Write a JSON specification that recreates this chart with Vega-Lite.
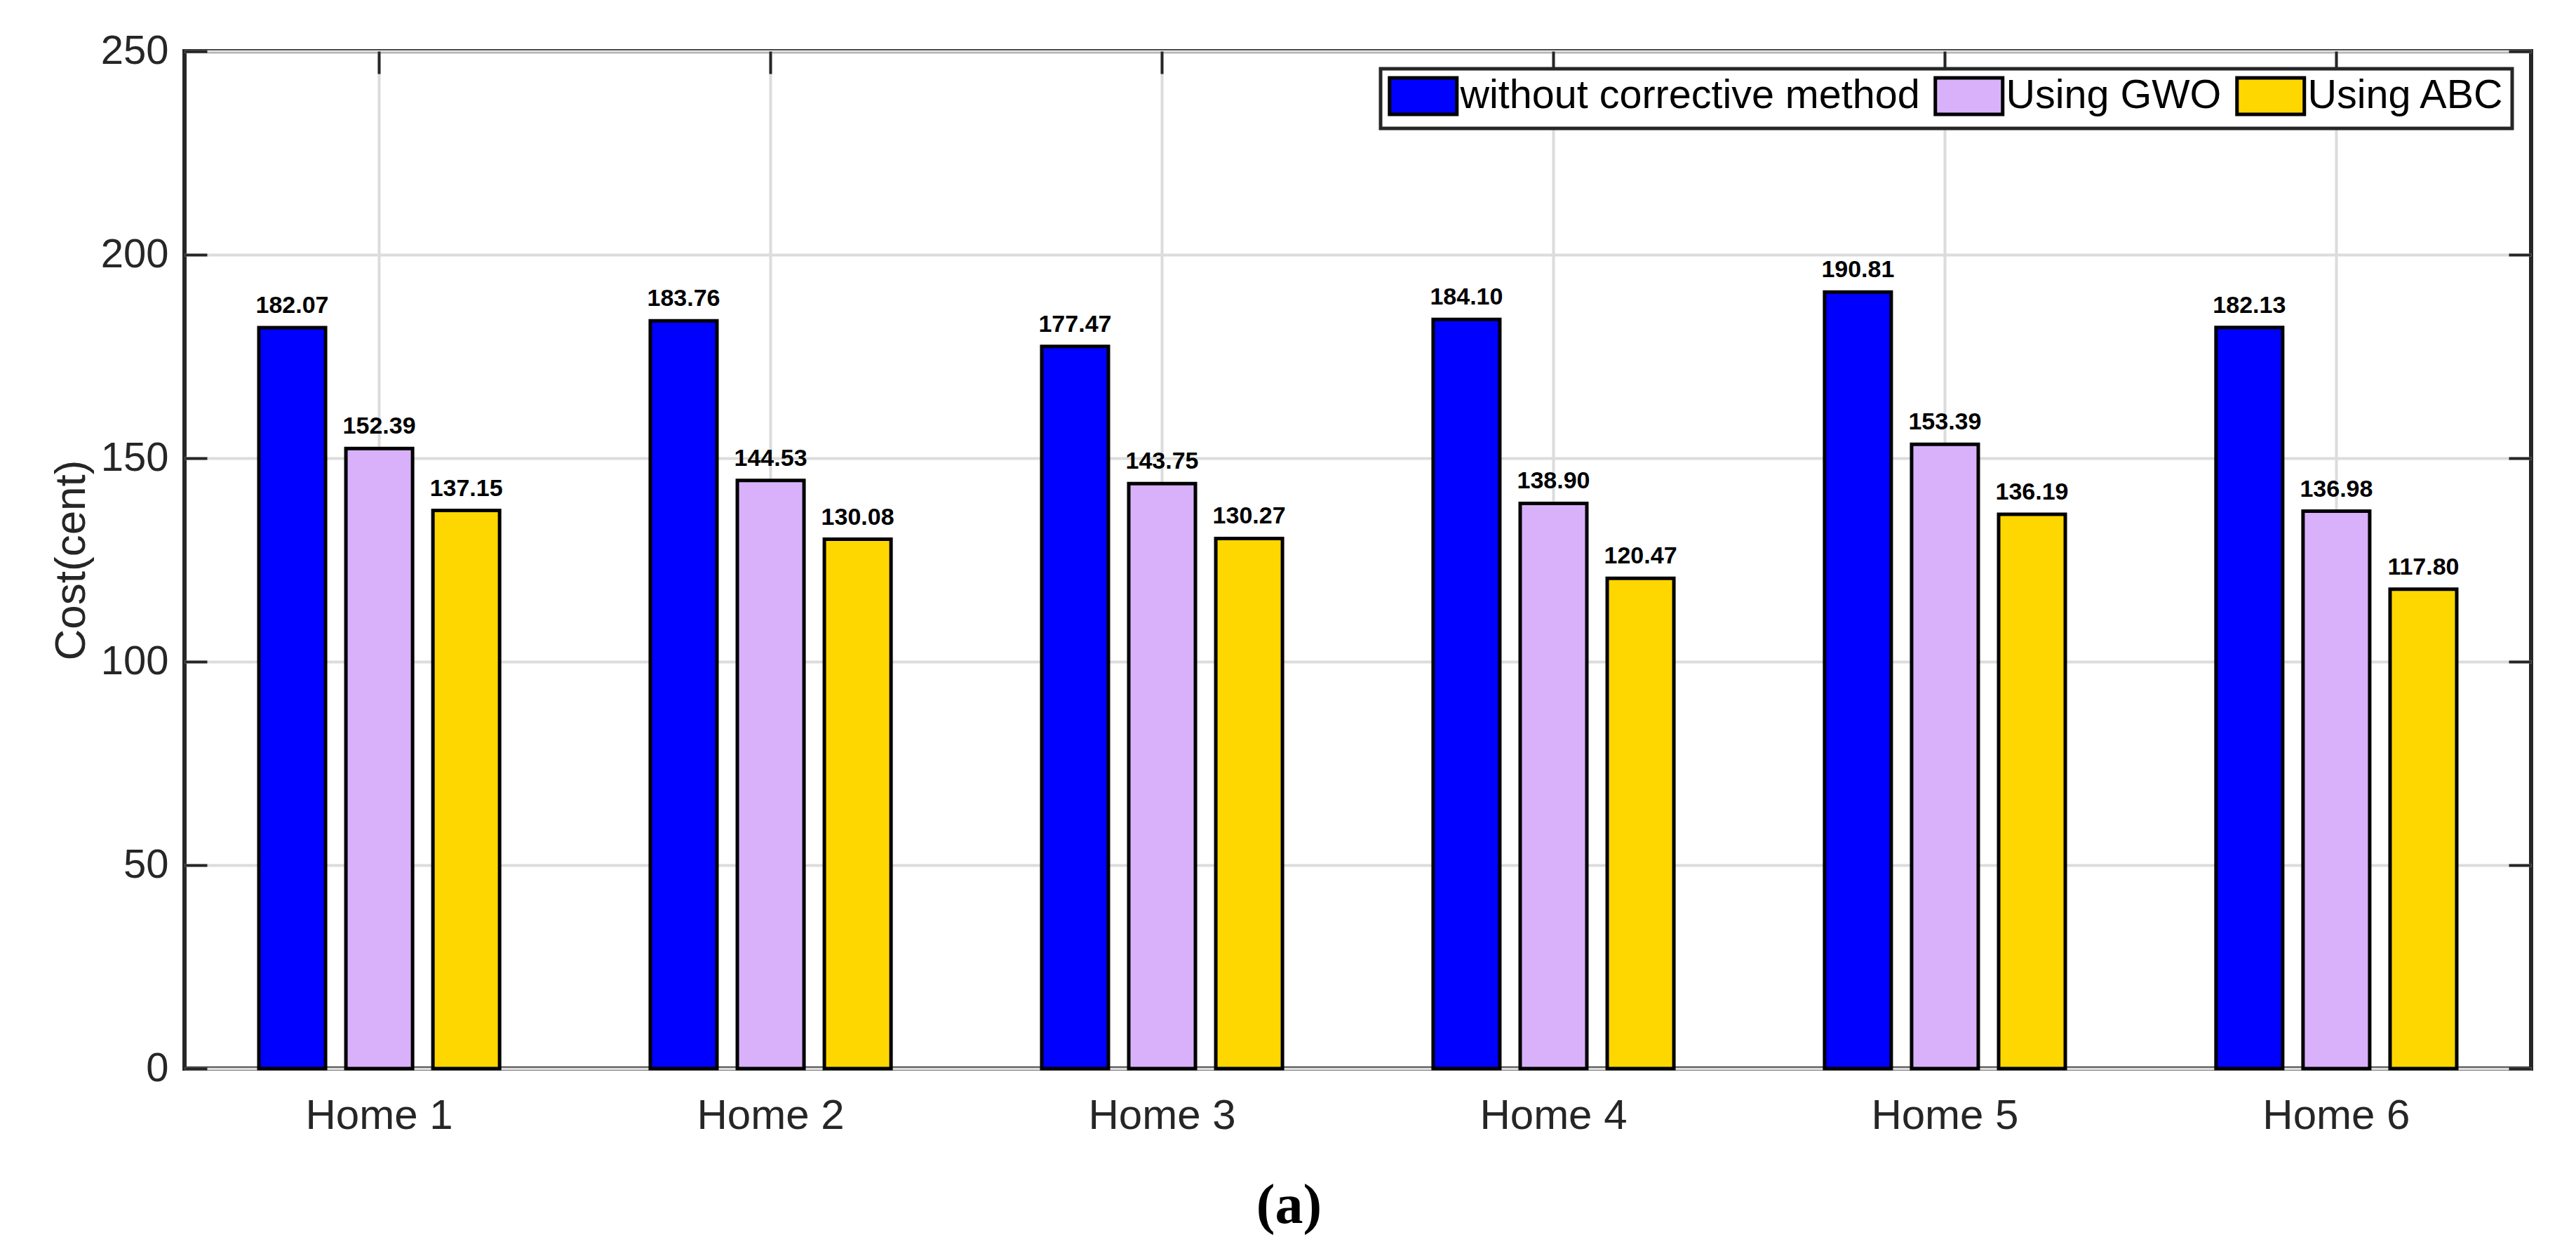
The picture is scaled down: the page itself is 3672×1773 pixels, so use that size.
{
  "$schema": "https://vega.github.io/schema/vega-lite/v6.json",
  "width": 3345,
  "height": 1450,
  "autosize": {"type": "none"},
  "padding": {"left": 263, "top": 73, "right": 64, "bottom": 250},
  "background": "white",
  "config": {
    "view": {"stroke": "#262626", "strokeWidth": 6},
    "font": "Liberation Sans",
    "axis": {
      "domain": false,
      "gridColor": "#DCDCDC",
      "gridWidth": 4,
      "tickColor": "#262626",
      "tickWidth": 4,
      "tickSize": -32,
      "labelFont": "Liberation Sans",
      "labelColor": "#262626",
      "labelFontSize": 58,
      "labelLimit": 0,
      "titleFont": "Liberation Sans"
    }
  },
  "title": {
    "text": "(a)",
    "orient": "bottom",
    "anchor": "middle",
    "frame": "group",
    "dx": -98,
    "offset": 60,
    "font": "Liberation Serif",
    "fontSize": 80,
    "fontWeight": "bold",
    "color": "black"
  },
  "data": {
    "values": [
      {"home": "Home 1", "method": "without corrective method", "cost": 182.07},
      {"home": "Home 1", "method": "Using GWO", "cost": 152.39},
      {"home": "Home 1", "method": "Using ABC", "cost": 137.15},
      {"home": "Home 2", "method": "without corrective method", "cost": 183.76},
      {"home": "Home 2", "method": "Using GWO", "cost": 144.53},
      {"home": "Home 2", "method": "Using ABC", "cost": 130.08},
      {"home": "Home 3", "method": "without corrective method", "cost": 177.47},
      {"home": "Home 3", "method": "Using GWO", "cost": 143.75},
      {"home": "Home 3", "method": "Using ABC", "cost": 130.27},
      {"home": "Home 4", "method": "without corrective method", "cost": 184.10},
      {"home": "Home 4", "method": "Using GWO", "cost": 138.90},
      {"home": "Home 4", "method": "Using ABC", "cost": 120.47},
      {"home": "Home 5", "method": "without corrective method", "cost": 190.81},
      {"home": "Home 5", "method": "Using GWO", "cost": 153.39},
      {"home": "Home 5", "method": "Using ABC", "cost": 136.19},
      {"home": "Home 6", "method": "without corrective method", "cost": 182.13},
      {"home": "Home 6", "method": "Using GWO", "cost": 136.98},
      {"home": "Home 6", "method": "Using ABC", "cost": 117.80}
    ]
  },
  "layer": [
    {
      "mark": {"type": "bar", "stroke": "black", "strokeWidth": 5},
      "encoding": {
        "x": {
          "field": "home", "type": "nominal",
          "scale": {"paddingInner": 0.385, "paddingOuter": 0.19},
          "axis": {"orient": "bottom", "title": null, "labelAngle": 0, "grid": true, "ticks": true, "bandPosition": 0.5, "labelPadding": 70, "labelFontSize": 60, "labelLimit": 0}
        },
        "xOffset": {
          "field": "method", "type": "nominal",
          "scale": {"domain": ["without corrective method", "Using GWO", "Using ABC"], "paddingInner": 0.234, "paddingOuter": 0}
        },
        "y": {
          "field": "cost", "type": "quantitative",
          "scale": {"domain": [0, 250], "nice": false},
          "axis": {
            "values": [0, 50, 100, 150, 200, 250],
            "grid": true,
            "labelPadding": 55,
            "title": "Cost(cent)",
            "titleFontSize": 62,
            "titleFontWeight": "normal",
            "titleColor": "#262626",
            "titleAngle": -90,
            "titleX": -162,
            "titleY": 725,
            "titleAlign": "center",
            "titleBaseline": "middle"
          }
        },
        "color": {
          "field": "method", "type": "nominal",
          "scale": {"domain": ["without corrective method", "Using GWO", "Using ABC"], "range": ["#0000FF", "#D9B1FB", "#FFD700"]},
          "legend": {
            "title": null,
            "orient": "none",
            "legendX": 1705,
            "legendY": 25,
            "direction": "horizontal",
            "symbolType": "M-1.846,-1H1.846V1H-1.846Z",
            "symbolSize": 2704,
            "symbolStrokeColor": "black",
            "symbolStrokeWidth": 5,
            "symbolOffset": 22,
            "symbolOpacity": 1,
            "labelOffset": 24,
            "labelFont": "Liberation Sans",
            "labelFontSize": 57.5,
            "labelColor": "black",
            "labelLimit": 2000,
            "columnPadding": 11,
            "padding": 10,
            "strokeColor": "#262626",
            "fillColor": "white",
            "encode": {"legend": {"update": {"strokeWidth": {"value": 5}}}}
          }
        }
      }
    },
    {
      "mark": {"type": "text", "font": "Liberation Sans", "fontWeight": "bold", "fontSize": 34, "baseline": "alphabetic", "dy": -21, "color": "black"},
      "encoding": {
        "x": {
          "field": "home", "type": "nominal",
          "scale": {"paddingInner": 0.385, "paddingOuter": 0.19},
          "axis": {"orient": "top", "title": null, "labels": false, "grid": false, "ticks": true, "bandPosition": 0.5}
        },
        "xOffset": {
          "field": "method", "type": "nominal",
          "scale": {"domain": ["without corrective method", "Using GWO", "Using ABC"], "paddingInner": 0.234, "paddingOuter": 0}
        },
        "y": {
          "field": "cost", "type": "quantitative",
          "scale": {"domain": [0, 250], "nice": false},
          "axis": {"orient": "right", "title": null, "labels": false, "grid": false, "ticks": true, "values": [0, 50, 100, 150, 200, 250]}
        },
        "text": {"field": "cost", "type": "quantitative", "format": ".2f"}
      }
    }
  ],
  "resolve": {"axis": {"x": "independent", "y": "independent"}}
}
